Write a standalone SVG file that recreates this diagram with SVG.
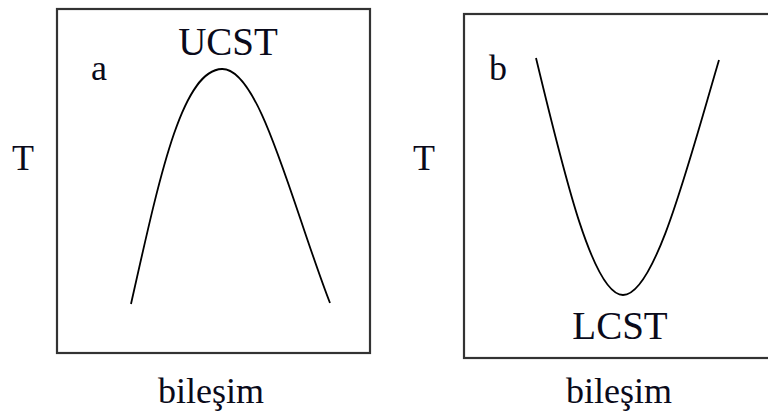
<svg xmlns="http://www.w3.org/2000/svg" width="768" height="412" viewBox="0 0 768 412">
<style>
.frame{fill:none;stroke:#333;stroke-width:2.2}
.curve{fill:none;stroke:#000;stroke-width:1.8}
.t{font-family:"Liberation Serif","Times New Roman",serif;fill:#0a0a1a}
</style>
<rect width="768" height="412" fill="#fff"/>
<g id="panel-a">
<rect class="frame" x="57" y="9" width="313" height="344"/>
<path class="curve" d="M131,304 C160,175 182,70 222,69 C260,68 292,205 330,303"/>
<text class="t" x="228" y="55" font-size="39" text-anchor="middle">UCST</text>
<text class="t" x="91" y="80" font-size="36">a</text>
<text class="t" x="12" y="170" font-size="36">T</text>
<text class="t" x="211" y="403" font-size="36" text-anchor="middle">bileşim</text>
</g>
<g id="panel-b">
<rect class="frame" x="464" y="14" width="310" height="344"/>
<path class="curve" d="M536,58 C562,165 592,295 623,295 C655,295 688,165 719,60"/>
<text class="t" x="620" y="339" font-size="39" text-anchor="middle">LCST</text>
<text class="t" x="489" y="80" font-size="36">b</text>
<text class="t" x="413" y="170" font-size="36">T</text>
<text class="t" x="619" y="403" font-size="36" text-anchor="middle">bileşim</text>
</g>
</svg>
